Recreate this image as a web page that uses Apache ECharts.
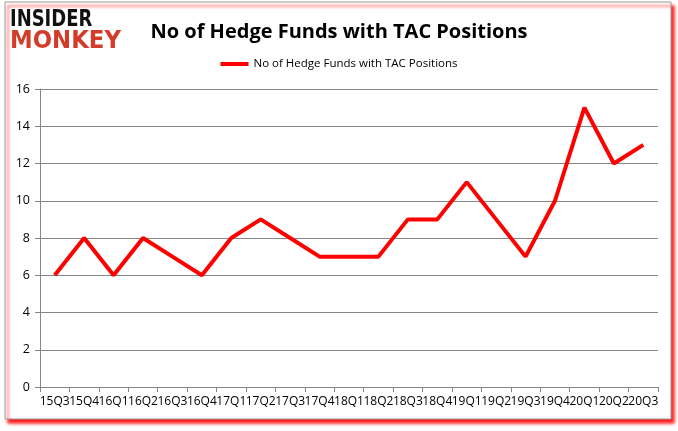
<!DOCTYPE html>
<html>
<head>
<meta charset="utf-8">
<script src="https://cdn.jsdelivr.net/npm/echarts@6/dist/echarts.min.js"></script>
<style>
html,body{margin:0;padding:0;background:#fff;}
#c{width:678px;height:431px;}
</style>
</head>
<body>
<div id="c"></div>
<script>
const categories = ['15Q3','15Q4','16Q1','16Q2','16Q3','16Q4','17Q1','17Q2','17Q3','17Q4','18Q1','18Q2','18Q3','18Q4','19Q1','19Q2','19Q3','19Q4','20Q1','20Q2','20Q3'];
const hedgeFunds = [6,8,6,8,7,6,8,9,8,7,7,7,9,9,11,9,7,10,15,12,13];
const seriesName = 'No of Hedge Funds with TAC Positions';
const titleText = 'No of Hedge Funds with TAC Positions';

const chart = echarts.init(document.getElementById('c'), null, {renderer:'canvas'});
chart.setOption({
  animation:false,
  backgroundColor:'#fff',
  graphic:[
    {type:'rect', z:-10, shape:{x:5,y:2,width:666,height:417},
     style:{fill:'#fff', stroke:'#9a9a9a', lineWidth:1, shadowColor:'rgba(255,0,0,0.9)', shadowBlur:3, shadowOffsetX:3, shadowOffsetY:4}},
    {type:'text', left:10, top:9, z:10, style:{text:'INSIDER', font:'900 23px "DejaVu Sans"', fill:'#111'}, scaleX:0.78},
    {type:'text', left:10, top:30, z:10, style:{text:'MONKEY', font:'900 24px "DejaVu Sans"', fill:'#d23c2a'}, scaleX:0.95}
  ],
  title:{text:titleText, left:'center', top:17, textStyle:{fontFamily:'"Open Sans"', fontWeight:'bold', fontSize:20, color:'#000'}},
  legend:{top:53, left:'center', itemWidth:28, itemHeight:4, icon:'rect', itemGap:2,
    textStyle:{fontFamily:'"Open Sans"', fontSize:11.5, color:'#000'},
    data:[{name:seriesName, icon:'rect'}]},
  grid:{left:40, right:20, top:89, bottom:44, containLabel:false},
  xAxis:{type:'category', data:categories, boundaryGap:true,
    axisLine:{lineStyle:{color:'#868686'}},
    axisTick:{show:true, alignWithLabel:false, length:5, lineStyle:{color:'#868686'}},
    axisLabel:{interval:0, color:'#000', fontFamily:'"Open Sans"', fontSize:12, margin:9}},
  yAxis:{type:'value', min:0, max:16, interval:2,
    axisLine:{show:true, lineStyle:{color:'#868686'}},
    axisTick:{show:true, length:5, lineStyle:{color:'#868686'}},
    splitLine:{lineStyle:{color:'#868686', width:1}},
    axisLabel:{color:'#000', fontFamily:'"Open Sans"', fontSize:12.5, margin:10}},
  series:[{name:seriesName, type:'line', data:hedgeFunds, symbol:'none',
    lineStyle:{color:'#ff0000', width:4}, itemStyle:{color:'#ff0000'}}]
});
</script>
</body>
</html>
